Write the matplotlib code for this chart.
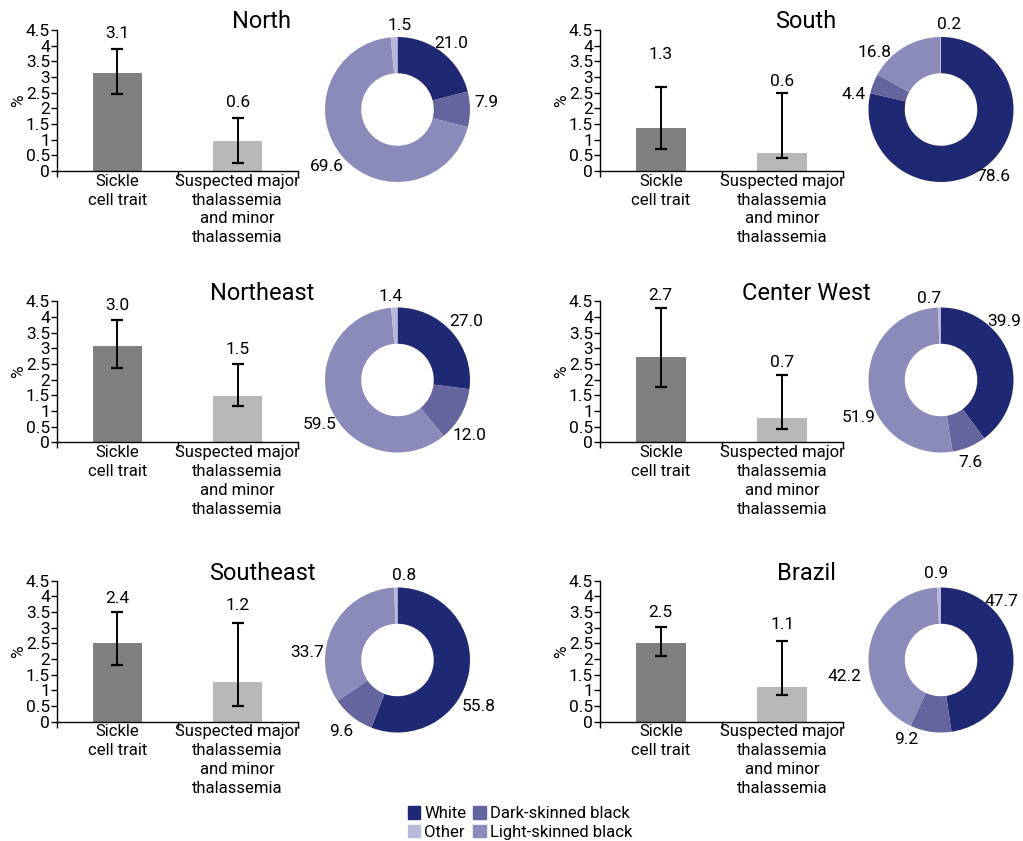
import matplotlib
matplotlib.use('Agg')
import matplotlib.pyplot as plt
from matplotlib.patches import Patch

plt.rcParams['font.family'] = ['Roboto', 'DejaVu Sans']

# --- data ---
regions = ['North', 'South', 'Northeast', 'Center West', 'Southeast', 'Brazil']
categories = ['Sickle\ncell trait', 'Suspected major\nthalassemia\nand minor\nthalassemia']

sickle_height = [3.12, 1.36, 3.06, 2.73, 2.52, 2.52]
sickle_low = [2.46, 0.69, 2.38, 1.78, 1.82, 2.10]
sickle_high = [3.89, 2.69, 3.90, 4.29, 3.50, 3.01]
sickle_label = ['3.1', '1.3', '3.0', '2.7', '2.4', '2.5']

thal_height = [0.96, 0.59, 1.49, 0.78, 1.28, 1.11]
thal_low = [0.26, 0.40, 1.15, 0.43, 0.51, 0.86]
thal_high = [1.70, 2.50, 2.49, 2.16, 3.14, 2.56]
thal_label = ['0.6', '0.6', '1.5', '0.7', '1.2', '1.1']

groups = ['White', 'Dark-skinned black', 'Light-skinned black', 'Other']
donut_values = {
    'North': [21.0, 7.9, 69.6, 1.5],
    'South': [78.6, 4.4, 16.8, 0.2],
    'Northeast': [27.0, 12.0, 59.5, 1.4],
    'Center West': [39.9, 7.6, 51.9, 0.7],
    'Southeast': [55.8, 9.6, 33.7, 0.8],
    'Brazil': [47.7, 9.2, 42.2, 0.9],
}

# --- layout (pixels of a 1023x841 canvas) ---
W, H = 1023, 841
C_BAR = ['#808080', '#b8b8b8']
C_DONUT = ['#1f2872', '#64659e', '#8b8bba', '#b8b8d8']

# height (data units) where the value labels sit
sickle_label_y = [4.39, 3.72, 4.36, 4.70, 3.94, 3.48]
thal_label_y = [2.19, 2.87, 2.97, 2.56, 3.72, 3.10]

# donut label offsets from centre, in radii (x right, y up)
donut_label_pos = {
    'North': [(0.74, 0.91), (1.23, 0.10), (-0.97, -0.79), (0.03, 1.16)],
    'South': [(0.72, -0.93), (-1.21, 0.21), (-0.92, 0.79), (0.11, 1.17)],
    'Northeast': [(0.95, 0.80), (1.00, -0.76), (-1.07, -0.62), (-0.09, 1.15)],
    'Center West': [(0.87, 0.80), (0.41, -1.14), (-1.14, -0.52), (-0.17, 1.13)],
    'Southeast': [(1.12, -0.64), (-0.77, -0.99), (-1.25, 0.10), (0.09, 1.17)],
    'Brazil': [(0.84, 0.80), (-0.48, -1.10), (-1.33, -0.23), (-0.07, 1.19)],
}

col_bar_left = [57, 600]
col_bar_width = [241, 243]
col_donut_x = [397.5, 941]
col_title_x = [262, 806]
row_zero_y = [171, 442.3, 721.7]
row_donut_y = [109.5, 380, 660]
row_title_y = [21.5, 293.5, 573]
bar_h_px = 141
donut_r_px = 72.5
FS = 12.5

fig = plt.figure(figsize=(W / 100, H / 100), dpi=100)

for i, reg in enumerate(regions):
    row, col = divmod(i, 2)

    # bar panel
    ax = fig.add_axes([col_bar_left[col] / W, 1 - row_zero_y[row] / H,
                       col_bar_width[col] / W, bar_h_px / H])
    hs = [sickle_height[i], thal_height[i]]
    lo = [sickle_low[i], thal_low[i]]
    hi = [sickle_high[i], thal_high[i]]
    xs = [0, 1]
    ax.bar(xs, hs, width=0.41, color=C_BAR)
    ax.errorbar(xs, hs, yerr=[[h - l for h, l in zip(hs, lo)], [u - h for h, u in zip(hs, hi)]],
                fmt='none', ecolor='black', elinewidth=1.4, capsize=4.5, capthick=1.6)
    for x, lab, ly in zip(xs, [sickle_label[i], thal_label[i]],
                          [sickle_label_y[i], thal_label_y[i]]):
        ax.text(x, ly, lab, ha='center', va='center', fontsize=FS, clip_on=False)
    ax.set_xlim(-0.5, 1.5)
    ax.set_ylim(0, 4.5)
    yt = [k * 0.5 for k in range(10)]
    ax.set_yticks(yt)
    ax.set_yticklabels([f'{v:g}' for v in yt], fontsize=FS)
    ax.set_xticks([-0.5, 0.5, 1.5])
    ax.set_xticklabels([])
    ax.set_xticks(xs, minor=True)
    ax.set_xticklabels(categories, minor=True, fontsize=12, linespacing=1.32, va='top')
    ax.tick_params(axis='x', which='minor', length=0, pad=2)
    ax.tick_params(axis='x', which='major', length=4, width=1, direction='out')
    ax.tick_params(axis='y', length=4, width=1, pad=1)
    ax.set_ylabel('%', fontsize=FS, labelpad=0)
    for s in ('top', 'right'):
        ax.spines[s].set_visible(False)
    for s in ('left', 'bottom'):
        ax.spines[s].set_linewidth(1)

    # title
    fig.text(col_title_x[col] / W, 1 - row_title_y[row] / H, reg,
             ha='center', va='center', fontsize=17)

    # donut
    half = 100
    cx, cy = col_donut_x[col], row_donut_y[row]
    dax = fig.add_axes([(cx - half) / W, 1 - (cy + half) / H, 2 * half / W, 2 * half / H])
    r = donut_r_px / half
    vals = donut_values[reg]
    dax.pie(vals, colors=C_DONUT, startangle=90, counterclock=False, radius=r,
            wedgeprops=dict(width=r * 0.5, linewidth=0))
    for v, (px, py) in zip(vals, donut_label_pos[reg]):
        dax.text(px * r, py * r, f'{v:.1f}', ha='center', va='center', fontsize=FS)
    dax.set_xlim(-1, 1)
    dax.set_ylim(-1, 1)
    dax.set_axis_off()

handles = [Patch(color=c, label=g) for c, g in zip(C_DONUT, groups)]
order = [0, 3, 1, 2]
fig.legend([handles[k] for k in order], [groups[k] for k in order],
           ncol=2, loc='center', bbox_to_anchor=(520 / W, 1 - 823 / H),
           frameon=False, fontsize=12, handlelength=0.75, handleheight=0.75,
           handletextpad=0.25, columnspacing=0.4, labelspacing=0.2, borderpad=0)

fig.savefig('out.png', dpi=100)
